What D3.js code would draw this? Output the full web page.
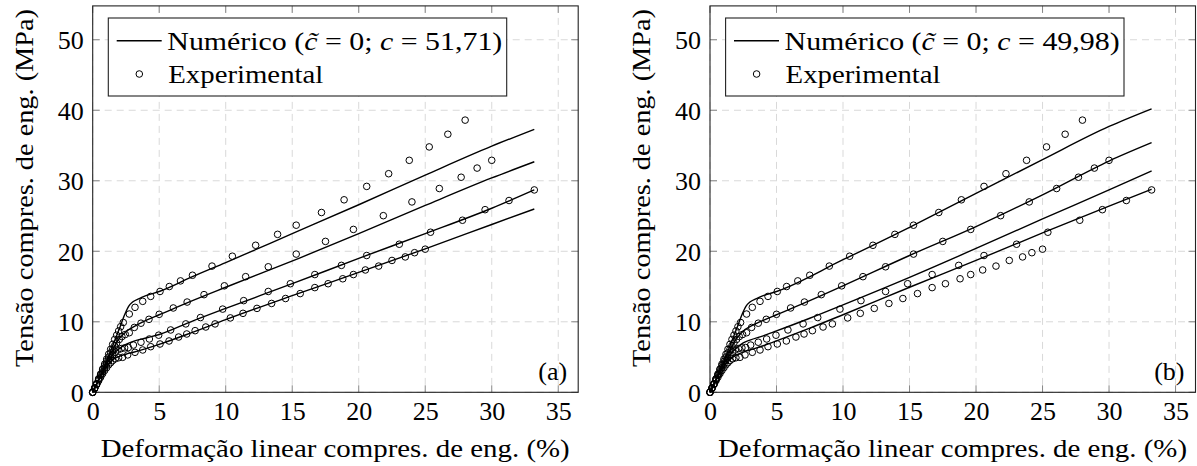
<!DOCTYPE html>
<html><head><meta charset="utf-8">
<script src="https://cdn.jsdelivr.net/npm/d3@7"></script>
<style>
html,body{margin:0;padding:0;background:#fff;}
svg text{font-family:"Liberation Serif","Times New Roman",serif !important;fill:#000;}
</style></head>
<body><svg id="chart" width="1197" height="466"></svg>
<script>
// ---- data ----
const xTicks = [0, 5, 10, 15, 20, 25, 30, 35];
const yTicks = [0, 10, 20, 30, 40, 50];
const xLabel = "Deformação linear compres. de eng. (%)";
const yLabel = "Tensão compres. de eng. (MPa)";
const panelLabels = ["(a)", "(b)"];
const cValues = ["51,71", "49,98"];

// experimental (same in both panels)
const expA = [[0,0],[0.15,0.6],[0.3,1.2],[0.45,1.9],[0.6,2.6],[0.75,3.3],[0.9,4.0],[1.05,4.7],[1.2,5.4],[1.35,6.1],[1.5,6.8],[1.65,7.5],[1.8,8.1],[1.95,8.7],[2.1,9.3],[2.3,9.9],[2.75,11.1],[3.18,12.05],[3.76,12.9],[4.36,13.6],[5.06,14.3],[5.76,15.0],[6.6,15.8],[7.5,16.6],[8.97,17.9],[10.5,19.3],[12.25,20.85],[13.9,22.4],[15.3,23.7],[17.2,25.5],[18.9,27.3],[20.6,29.2],[22.25,31.0],[23.8,32.9],[25.3,34.8],[26.7,36.6],[28.0,38.6]];
const expB = [[0,0],[0.15,0.6],[0.3,1.2],[0.45,1.9],[0.6,2.5],[0.75,3.2],[0.9,3.8],[1.05,4.4],[1.2,5.0],[1.35,5.6],[1.5,6.1],[1.65,6.6],[1.8,7.0],[2.0,7.5],[2.2,7.9],[2.45,8.2],[2.75,8.45],[3.13,9.2],[3.63,9.8],[4.23,10.35],[5.0,11.06],[6.06,11.96],[7.1,12.8],[8.37,13.85],[9.9,15.1],[11.5,16.4],[13.2,17.8],[15.3,19.6],[17.5,21.4],[19.6,23.1],[21.85,25.05],[24.0,27.0],[26.06,28.9],[27.7,30.5],[28.9,31.8],[30.0,32.9]];
const expC = [[0,0],[0.15,0.6],[0.3,1.2],[0.45,1.8],[0.6,2.4],[0.75,2.9],[0.9,3.5],[1.05,4.0],[1.2,4.5],[1.35,4.9],[1.5,5.3],[1.7,5.7],[1.9,6.0],[2.15,6.2],[2.4,6.3],[2.68,6.35],[3.06,6.7],[3.63,7.1],[4.26,7.56],[4.96,8.1],[5.86,8.84],[7.0,9.7],[8.1,10.6],[9.77,11.8],[11.35,13.0],[13.2,14.3],[14.86,15.4],[16.7,16.7],[18.7,18.0],[20.6,19.4],[23.05,21.0],[25.4,22.7],[27.8,24.4],[29.5,25.9],[31.3,27.2],[33.2,28.7]];
const expD = [[0,0],[0.15,0.55],[0.3,1.1],[0.45,1.65],[0.6,2.15],[0.75,2.65],[0.9,3.1],[1.05,3.5],[1.2,3.9],[1.35,4.2],[1.5,4.5],[1.7,4.75],[1.95,4.9],[2.25,4.96],[2.63,5.3],[3.18,5.67],[3.76,6.0],[4.36,6.47],[5.06,6.85],[5.74,7.28],[6.46,7.84],[7.07,8.27],[7.7,8.74],[8.5,9.26],[9.2,9.7],[10.35,10.55],[11.3,11.2],[12.35,11.9],[13.45,12.6],[14.5,13.3],[15.6,14.0],[16.7,14.85],[17.7,15.4],[18.8,16.1],[19.6,16.7],[20.5,17.35],[21.5,17.9],[22.5,18.7],[23.5,19.2],[24.2,19.8],[25.0,20.3]];

// numeric, panel (a)
const numA_a = [[0,0],[0.5,2.0],[1,4.2],[1.5,6.6],[2,9.0],[2.4,11.0],[2.7,12.2],[3.0,12.8],[3.5,13.3],[4,13.7],[5,14.3],[7.5,16.4],[10,18.4],[15,22.5],[20,26.6],[25,30.8],[30,34.9],[33.2,37.3]];
const numB_a = [[0,0],[0.5,2.0],[1,4.1],[1.5,6.0],[2,7.6],[2.5,8.6],[3,9.2],[4,10.2],[5,11.0],[7.5,13.0],[10,14.9],[15.5,19.0],[20,22.5],[25,26.5],[30,30.4],[33.2,32.7]];
const numC_a = [[0,0],[0.5,2.0],[1,3.9],[1.5,5.3],[2,6.2],[2.5,6.8],[3,7.2],[4,7.7],[5,8.2],[7.5,10.1],[10,11.9],[15,15.4],[20,19.0],[25,22.5],[30,26.1],[33.2,28.7]];
const numD_a = [[0,0],[0.5,1.9],[1,3.6],[1.5,4.6],[2,5.1],[2.5,5.4],[3,5.65],[4,6.2],[5,6.8],[7.5,8.5],[10,10.3],[15,13.7],[20,17.0],[25,20.35],[30,23.8],[33.2,26.0]];
// numeric, panel (b)
const numA_b = [[0,0],[0.5,2.0],[1,4.2],[1.5,6.6],[2,9.0],[2.4,11.0],[2.7,12.2],[3.0,12.8],[3.5,13.3],[4,13.7],[5,14.3],[10,18.8],[15,23.4],[20,28.2],[25,33.0],[30,37.7],[33.2,40.2]];
const numB_b = [[0,0],[0.5,2.0],[1,4.1],[1.5,6.0],[2,7.6],[2.5,8.7],[3,9.3],[4,10.2],[5,11.0],[7.5,13.0],[10,15.1],[15,19.4],[20,23.5],[25,28.0],[30,32.8],[33.2,35.4]];
const numC_b = [[0,0],[0.5,2.0],[1,3.9],[1.5,5.3],[2,6.3],[2.5,7.0],[3,7.4],[4,8.0],[5,8.7],[7.5,10.5],[10,12.4],[15,16.3],[20,20.4],[25,24.6],[30,28.7],[33.2,31.4]];
const numD_b = [[0,0],[0.5,1.9],[1,3.6],[1.5,4.7],[2,5.3],[2.5,5.7],[3,6.0],[4,6.6],[5,7.3],[7.5,9.1],[10,11.0],[15,14.9],[20,18.7],[25,22.6],[30,26.4],[33.2,28.8]];

const experimental = [expA, expB, expC, expD];
const numericPanels = [[numA_a, numB_a, numC_a, numD_a], [numA_b, numB_b, numC_b, numD_b]];

// ---- drawing ----
const FONT = '"Liberation Serif","Times New Roman",serif';
const svg = d3.select("#chart");
const W = 485.5, H = 386.4, topY = 5.9;
const lefts = [92.7, 710];

lefts.forEach((L, pi) => {
  const g = svg.append("g").style("font-family", FONT);
  const x = d3.scaleLinear().domain([0, 36.5]).range([L, L + W]);
  const y = d3.scaleLinear().domain([0, 54.8]).range([topY + H, topY]);

  // grid
  g.append("g").selectAll("line").data(xTicks).join("line")
    .attr("x1", d => x(d)).attr("x2", d => x(d)).attr("y1", topY).attr("y2", topY + H)
    .attr("stroke", "#d9d9d9").attr("stroke-width", 1).attr("stroke-dasharray", "7,5");
  g.append("g").selectAll("line").data(yTicks).join("line")
    .attr("y1", d => y(d)).attr("y2", d => y(d)).attr("x1", L).attr("x2", L + W)
    .attr("stroke", "#d9d9d9").attr("stroke-width", 1).attr("stroke-dasharray", "7,5");

  // axes (ticks inward on all sides)
  const tl = 7;
  const axB = d3.axisBottom(x).tickValues(xTicks).tickSize(0).tickPadding(9);
  const gb = g.append("g").attr("transform", `translate(0,${topY + H})`).call(axB);
  gb.attr("font-family", null).style("font-family", FONT);
  gb.select(".domain").remove();
  gb.selectAll("text").attr("font-size", 26).style("font-family", FONT);
  const axL = d3.axisLeft(y).tickValues(yTicks).tickSize(0).tickPadding(9);
  const gl = g.append("g").attr("transform", `translate(${L},0)`).call(axL);
  gl.attr("font-family", null).style("font-family", FONT);
  gl.select(".domain").remove();
  gl.selectAll("text").attr("font-size", 26).style("font-family", FONT).attr("dy", "0.34em");

  const tickG = g.append("g").attr("stroke", "#888").attr("stroke-width", 1);
  xTicks.forEach(t => {
    tickG.append("line").attr("x1", x(t)).attr("x2", x(t)).attr("y1", topY + H).attr("y2", topY + H - tl);
    tickG.append("line").attr("x1", x(t)).attr("x2", x(t)).attr("y1", topY).attr("y2", topY + tl);
  });
  yTicks.forEach(t => {
    tickG.append("line").attr("y1", y(t)).attr("y2", y(t)).attr("x1", L).attr("x2", L + tl);
    tickG.append("line").attr("y1", y(t)).attr("y2", y(t)).attr("x1", L + W).attr("x2", L + W - tl);
  });

  // frame
  g.append("rect").attr("x", L).attr("y", topY).attr("width", W).attr("height", H)
    .attr("fill", "none").attr("stroke", "#222").attr("stroke-width", 1.1);

  // numeric lines
  const line = d3.line().x(d => x(d[0])).y(d => y(d[1])).curve(d3.curveMonotoneX);
  g.append("g").selectAll("path").data(numericPanels[pi]).join("path")
    .attr("d", line).attr("fill", "none").attr("stroke", "#000").attr("stroke-width", 1.4);

  // experimental markers
  experimental.forEach(s => {
    g.append("g").selectAll("circle").data(s).join("circle")
      .attr("cx", d => x(d[0])).attr("cy", d => y(d[1])).attr("r", 3.3)
      .attr("fill", "none").attr("stroke", "#000").attr("stroke-width", 1);
  });

  // axis titles
  g.append("text").attr("x", L + 242.5).attr("y", 457).attr("text-anchor", "middle")
    .attr("font-size", 26).attr("textLength", 469).attr("lengthAdjust", "spacingAndGlyphs").text(xLabel);
  g.append("text").attr("transform", `translate(${L - 60},188) rotate(-90)`).attr("text-anchor", "middle")
    .attr("font-size", 26).attr("textLength", 358).attr("lengthAdjust", "spacingAndGlyphs").text(yLabel);

  // panel label
  g.append("text").attr("x", L + W - 11).attr("y", 380).attr("text-anchor", "end")
    .attr("font-size", 26).text(panelLabels[pi]);

  // legend
  const lx = L + 15.6, ly = 18, lw = 398.4, lh = 78;
  g.append("rect").attr("x", lx).attr("y", ly).attr("width", lw).attr("height", lh)
    .attr("fill", "#fff").attr("stroke", "#222").attr("stroke-width", 1.1);
  g.append("line").attr("x1", lx + 8.4).attr("x2", lx + 53.4).attr("y1", 40.7).attr("y2", 40.7)
    .attr("stroke", "#000").attr("stroke-width", 1.4);
  const t1 = g.append("text").attr("x", lx + 59).attr("y", 49.5).attr("font-size", 26)
    .attr("textLength", 335).attr("lengthAdjust", "spacingAndGlyphs");
  t1.append("tspan").text("Numérico (");
  t1.append("tspan").attr("font-style", "italic").text("c\u0303");
  t1.append("tspan").text(" = 0; ");
  t1.append("tspan").attr("font-style", "italic").text("c");
  t1.append("tspan").text(" = " + cValues[pi] + ")");
  g.append("circle").attr("cx", lx + 31).attr("cy", 74).attr("r", 3.3)
    .attr("fill", "none").attr("stroke", "#000").attr("stroke-width", 1);
  g.append("text").attr("x", lx + 60).attr("y", 82.5).attr("font-size", 26)
    .attr("textLength", 155).attr("lengthAdjust", "spacingAndGlyphs").text("Experimental");
});
</script></body></html>
